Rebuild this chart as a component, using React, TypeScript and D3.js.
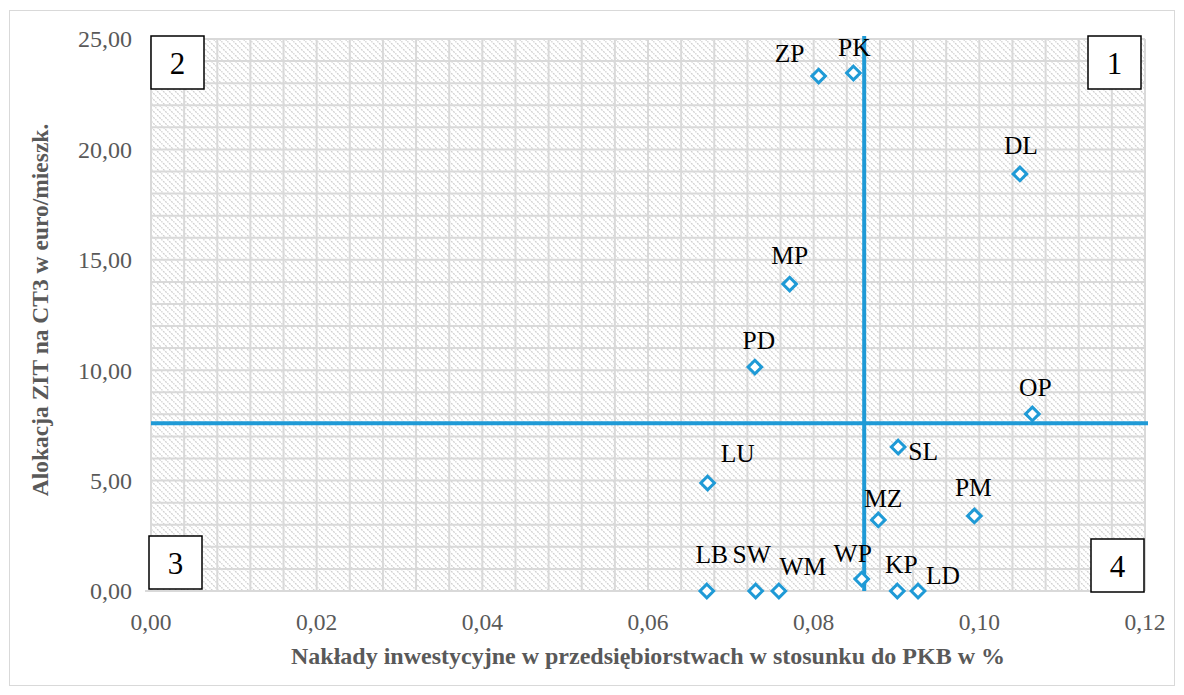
import React from "react";
import * as d3 from "d3";

const regions = ["ZP", "PK", "DL", "MP", "PD", "OP", "SL", "LU", "MZ", "PM", "WP", "LB", "SW", "WM", "KP", "LD"];
const investment = [0.0806, 0.0848, 0.1049, 0.0771, 0.0729, 0.1064, 0.0902, 0.0672, 0.0878, 0.0994, 0.0858, 0.0671, 0.073, 0.0758, 0.0901, 0.0926];
const allocation = [23.32, 23.46, 18.89, 13.9, 10.14, 8.02, 6.52, 4.89, 3.22, 3.4, 0.54, 0, 0, 0, 0, 0];
const xTicks = [0, 0.02, 0.04, 0.06, 0.08, 0.1, 0.12];
const yTicks = [0, 5, 10, 15, 20, 25];
const meanX = 0.0861;
const meanY = 7.6;
const quadrants = ["1", "2", "3", "4"];

// label offsets (px) relative to marker centre, layout only
const labelOffsets: Record<string, [number, number]> = {
  ZP: [-29, -23], PK: [1, -26], DL: [1, -29], MP: [0, -29], PD: [4, -27], OP: [3, -27],
  SL: [25, 4], LU: [30, -30], MZ: [5, -22], PM: [-1, -29], WP: [-9, -26], LB: [5, -37],
  SW: [-4, -37], WM: [24, -25], KP: [4, -27], LD: [25, -16],
};

const W = 1184, H = 695;
const L = 151, R = 1145, T = 39, B = 591;
const blue = "#1f9ad6";
const grid = "#d9d9d9";
const axisText = "#595959";
const serif = "'Liberation Serif', 'Times New Roman', serif";

export default function App() {
  const x = d3.scaleLinear().domain([0, 0.12]).range([L, R]);
  const y = d3.scaleLinear().domain([0, 25]).range([B, T]);
  const fmt = (v: number, d: number) => v.toFixed(d).replace(".", ",");
  const minorX = d3.range(0, 31).map((i) => i * 0.004);
  const minorY = d3.range(0, 26);
  const diamond = d3.symbol().type(d3.symbolDiamond2 ?? d3.symbolSquare).size(118)();

  const boxes: { q: string; x: number; y: number }[] = [
    { q: quadrants[0], x: 1088, y: 36 },
    { q: quadrants[1], x: 151, y: 36 },
    { q: quadrants[2], x: 149, y: 536 },
    { q: quadrants[3], x: 1091, y: 539 },
  ];

  return (
    <svg width={W} height={H} style={{ position: "fixed", left: 0, top: 0, background: "#fff" }}>
      <defs>
        <pattern id="hatch" patternUnits="userSpaceOnUse" width="6" height="6">
          <path d="M-1,-1 L7,7 M5,-1 L7,1 M-1,5 L1,7" stroke="#d0d0d0" strokeWidth="1.3" strokeDasharray="2 1" />
        </pattern>
      </defs>
      <rect x={9.5} y={10.5} width={1165} height={675} fill="#fff" stroke={grid} strokeWidth={1} />
      <rect x={L} y={T} width={R - L} height={B - T} fill="url(#hatch)" />
      {minorX.map((v, i) => (
        <line key={"gx" + i} x1={x(v)} x2={x(v)} y1={T} y2={B} stroke={grid} strokeWidth={2} />
      ))}
      {minorY.map((v, i) => (
        <line key={"gy" + i} x1={L} x2={R} y1={y(v)} y2={y(v)} stroke={grid} strokeWidth={2} />
      ))}
      <line x1={L - 6} x2={R} y1={B} y2={B} stroke={grid} strokeWidth={2} />
      {yTicks.map((v) => (
        <text key={"yt" + v} x={132} y={y(v)} dy="0.35em" textAnchor="end" fontFamily={serif} fontSize={24} fill={axisText}>
          {fmt(v, 2)}
        </text>
      ))}
      {xTicks.map((v) => (
        <text key={"xt" + v} x={x(v)} y={630} textAnchor="middle" fontFamily={serif} fontSize={23.5} fill={axisText}>
          {fmt(v, 2)}
        </text>
      ))}
      <text x={648} y={664} textAnchor="middle" fontFamily={serif} fontSize={24} fontWeight="bold" fill={axisText}>
        Nakłady inwestycyjne w przedsiębiorstwach w stosunku do PKB w %
      </text>
      <text transform={`translate(48,${310}) rotate(-90)`} textAnchor="middle" fontFamily={serif} fontSize={23.5} fontWeight="bold" fill={axisText}>
        Alokacja ZIT na CT3 w euro/mieszk.
      </text>
      <line x1={x(meanX)} x2={x(meanX)} y1={T - 3} y2={B} stroke={blue} strokeWidth={4} />
      <line x1={L} x2={R + 3} y1={y(meanY)} y2={y(meanY)} stroke={blue} strokeWidth={4} />
      {regions.map((r, i) => (
        <g key={r} transform={`translate(${x(investment[i])},${y(allocation[i])})`}>
          <path d={diamond} fill="#fff" stroke={blue} strokeWidth={3} />
        </g>
      ))}
      {regions.map((r, i) => {
        const o = labelOffsets[r];
        return (
          <text key={"l" + r} x={x(investment[i]) + o[0]} y={y(allocation[i]) + o[1]} dy="0.35em" textAnchor="middle" fontFamily={serif} fontSize={25.5} fill="#000">
            {r}
          </text>
        );
      })}
      {boxes.map((b) => (
        <g key={"q" + b.q}>
          <rect x={b.x} y={b.y} width={53} height={53} fill="#fff" stroke="#000" strokeWidth={1.5} />
          <text x={b.x + 26.5} y={b.y + 27} dy="0.35em" textAnchor="middle" fontFamily={serif} fontSize={31} fill="#000">
            {b.q}
          </text>
        </g>
      ))}
    </svg>
  );
}
